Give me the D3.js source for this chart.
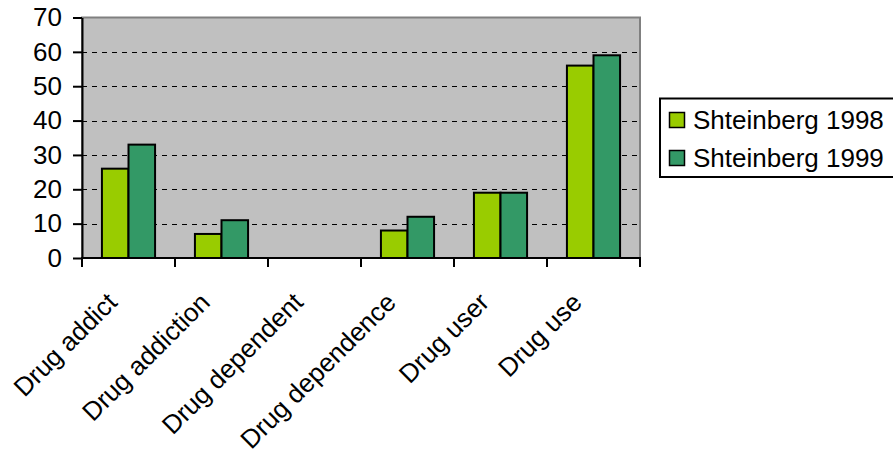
<!DOCTYPE html>
<html><head><meta charset="utf-8">
<script src="https://cdn.jsdelivr.net/npm/d3@7"></script>
<style>body{margin:0;background:#fff}svg{display:block}</style>
</head><body>
<script>
const categories = ["Drug addict","Drug addiction","Drug dependent","Drug dependence","Drug user","Drug use"];
const seriesNames = ["Shteinberg 1998","Shteinberg 1999"];
const values1998 = [26, 7, 0, 8, 19, 56];
const values1999 = [33, 11, 0, 12, 19, 59];
const yTicks = [0,10,20,30,40,50,60,70];
const colors = ["#99CC00","#339966"];

const W = 893, H = 452;
const FONT = "'Liberation Sans', Arial, sans-serif";
const m = {left:82, top:17.5, right:640, bottom:258};
const svg = d3.select("body").append("svg").attr("width",W).attr("height",H);

const x = d3.scaleBand().domain(categories).range([m.left,m.right]).paddingInner(0).paddingOuter(0);
const xs = d3.scaleBand().domain(seriesNames).range([0,x.bandwidth()]).paddingInner(0).paddingOuter(0.75);
const y = d3.scaleLinear().domain([0,70]).range([m.bottom,m.top]);

// plot background
svg.append("rect").attr("x",m.left).attr("y",m.top).attr("width",m.right-m.left).attr("height",m.bottom-m.top)
  .attr("fill","#C0C0C0").attr("stroke","#808080").attr("stroke-width",2);

// gridlines
svg.append("g").selectAll("line").data(yTicks.filter(d=>d>0 && d<70)).join("line")
  .attr("x1",m.left).attr("x2",m.right).attr("y1",d=>Math.round(y(d))+0.5).attr("y2",d=>Math.round(y(d))+0.5)
  .attr("stroke","#000").attr("stroke-width",1).attr("stroke-dasharray","5,5");

// bars
const data = categories.map((c,i)=>({c, vals:[values1998[i], values1999[i]]}));
const g = svg.append("g");
data.forEach(d=>{
  d.vals.forEach((v,j)=>{
    if (v<=0) return;
    g.append("rect").attr("x",x(d.c)+xs(seriesNames[j])).attr("y",y(v))
      .attr("width",xs.bandwidth()).attr("height",y(0)-y(v))
      .attr("fill",colors[j]).attr("stroke","#000").attr("stroke-width",2);
  });
});

// y axis
const yAxis = d3.axisLeft(y).tickValues(yTicks).tickSize(9).tickPadding(11).tickSizeOuter(0);
const ya = svg.append("g").attr("transform",`translate(${m.left},0)`).call(yAxis);
ya.select(".domain").attr("stroke","#000").attr("stroke-width",2);
ya.selectAll(".tick line").attr("stroke","#000").attr("stroke-width",2);
ya.selectAll("text").attr("font-family",FONT).attr("font-size",26).attr("fill","#000");

// x axis
const xa = svg.append("g").attr("transform",`translate(0,${m.bottom})`);
xa.append("line").attr("x1",m.left-1).attr("x2",m.right+1).attr("y1",0).attr("y2",0).attr("stroke","#000").attr("stroke-width",2);
const bounds = categories.map(c=>x(c)).concat([m.right]);
xa.selectAll("line.tk").data(bounds).join("line").attr("class","tk")
  .attr("x1",d=>d).attr("x2",d=>d).attr("y1",0).attr("y2",9).attr("stroke","#000").attr("stroke-width",2);
xa.selectAll("text").data(categories).join("text")
  .attr("transform",d=>`translate(${x(d)+x.bandwidth()/2-10},${46}) rotate(-45)`)
  .attr("text-anchor","end")
  .attr("font-family",FONT).attr("font-size",26).attr("fill","#000")
  .text(d=>d);

// legend
const lg = svg.append("g");
lg.append("rect").attr("x",660).attr("y",98.5).attr("width",240).attr("height",78.5)
  .attr("fill","#fff").attr("stroke","#000").attr("stroke-width",2);
seriesNames.forEach((s,i)=>{
  const cy = 120 + i*38;
  lg.append("rect").attr("x",669.5).attr("y",cy-7.5).attr("width",15).attr("height",15)
    .attr("fill",colors[i]).attr("stroke","#000").attr("stroke-width",1.5);
  lg.append("text").attr("x",693).attr("y",cy).attr("dy","0.36em")
    .attr("font-family",FONT).attr("font-size",26).attr("fill","#000").text(s);
});
</script>
</body></html>
